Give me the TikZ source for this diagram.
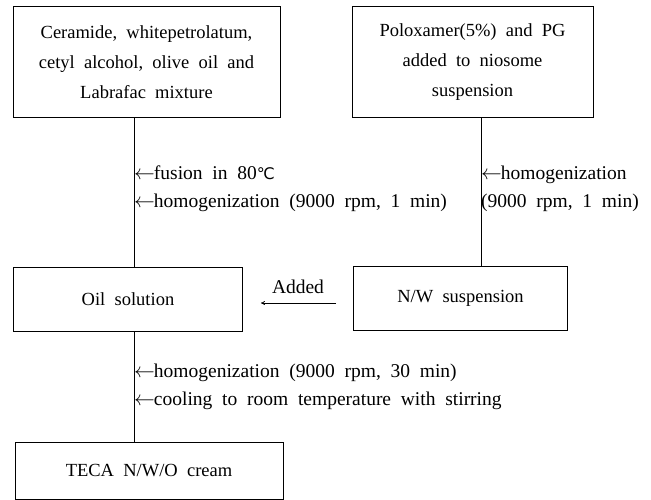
\documentclass[tikz,border=0pt]{standalone}
\usepackage{fontspec}
\setmainfont{Liberation Serif}
\newfontfamily\symfont{DejaVu Sans}
\usetikzlibrary{arrows.meta}

\newcommand{\inarrow}{$\leftarrow$\kern-1pt}
\newcommand{\degC}{{\symfont\fontsize{16}{16}\selectfont ℃}}
\newcommand{\boxfont}{\fontsize{18.5}{30}\selectfont\spaceskip=0.5em plus 0.1em\relax}
\newcommand{\notefont}{\fontsize{19.5}{28}\selectfont\spaceskip=0.5em plus 0.1em\relax}

\begin{document}
\begin{tikzpicture}[x=1pt,y=-1pt,
    % keretes lépések
    stepbox/.style={draw, line width=0.8pt, align=center, inner sep=0pt, font=\boxfont},
    % megjegyzések a vonalak mellett
    note/.style={anchor=west, inner sep=0pt, align=left, font=\notefont},
    link/.style={line width=0.8pt}
]
    \useasboundingbox (0,0) rectangle (651,500);

    % Dobozok
    \node[stepbox, minimum width=267pt, minimum height=111pt] (mix) at (146.5,62)
        {Ceramide, whitepetrolatum,\\cetyl alcohol, olive oil and\\Labrafac mixture};
    \node[stepbox, minimum width=241pt, minimum height=111pt] (polox) at (472.5,62)
        {Poloxamer(5\%) and PG\\added to niosome\\suspension};
    \node[stepbox, minimum width=229pt, minimum height=64pt] (oil) at (128,299.5) {Oil solution};
    \node[stepbox, minimum width=214pt, minimum height=64pt] (nw) at (460.5,298) {N/W suspension};
    \node[stepbox, minimum width=268pt, minimum height=57pt] (teca) at (149,470.5) {TECA N/W/O cream};

    % Vonalak x helyei
    \coordinate (xl) at (134,0);
    \coordinate (xr) at (481,0);
    \coordinate (ya) at (0,303);

    % Összekötő vonalak
    \draw[link] (mix.south -| xl) -- (oil.north -| xl);
    \draw[link] (polox.south -| xr) -- (nw.north -| xr);
    \draw[link] (oil.south -| xl) -- (teca.north -| xl);
    \draw[link, -{To[length=4pt,width=4pt]}, shorten <=17pt, shorten >=18pt]
        (nw.west |- ya) -- (oil.east |- ya) node[midway, above=6pt, font=\notefont] (added) {Added};

    % Feliratok
    \node[note] (fusion) at (134,189) {\inarrow fusion in 80\degC\\\inarrow homogenization (9000 rpm, 1 min)};
    \node[note] (homog) at (481,189) {\inarrow homogenization\\(9000 rpm, 1 min)};
    \node[note] (cool) at (134,387) {\inarrow homogenization (9000 rpm, 30 min)\\\inarrow cooling to room temperature with stirring};
\end{tikzpicture}
\end{document}
